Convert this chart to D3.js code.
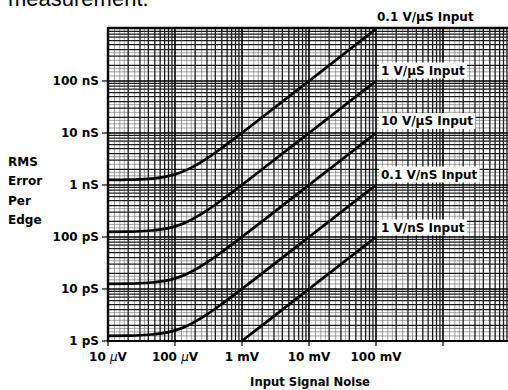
<!DOCTYPE html>
<html><head><meta charset="utf-8">
<script src="https://cdn.jsdelivr.net/npm/d3@7"></script>
<style>
html,body{margin:0;padding:0;background:#fff;}
svg{display:block;}
text{font-family:"DejaVu Sans",sans-serif;font-weight:bold;fill:#000;}
</style></head>
<body>
<svg id="c" width="508" height="390"></svg>
<script>
// Input signal noise (µV)
const noise = [10, 20, 30, 50, 70, 100, 150, 200, 300, 500, 700, 1000, 2000, 5000, 10000, 20000, 50000, 100000];
const noise5 = [1000, 2000, 5000, 10000, 20000, 50000, 100000];
// RMS error per edge (ps)
const s01VperUs = [1254, 1266, 1285, 1346, 1433, 1601, 1953, 2358, 3250, 5154, 7110, 10080, 20040, 50020, 100010, 200000, 500000, 1000000];
const s1VperUs  = [125, 127, 129, 135, 143, 160, 195, 236, 325, 515, 711, 1008, 2004, 5002, 10000, 20000, 50000, 100000];
const s10VperUs = [12.5, 12.7, 12.9, 13.5, 14.3, 16.0, 19.5, 23.6, 32.5, 51.5, 71.1, 101, 200, 500, 1000, 2000, 5000, 10000];
const s01VperNs = [1.25, 1.27, 1.29, 1.35, 1.43, 1.60, 1.95, 2.36, 3.25, 5.15, 7.11, 10.1, 20.0, 50.0, 100, 200, 500, 1000];
const s1VperNs  = [1.01, 2.0, 5.0, 10, 20, 50, 100];
const seriesLabels = ["0.1 V/\u00b5S Input", "1 V/\u00b5S Input", "10 V/\u00b5S Input", "0.1 V/nS Input", "1 V/nS Input"];
const xTickVals = [10, 100, 1000, 10000, 100000, 1000000];
const xTickLabels = [["10 ", "\u00b5", "V"], ["100 ", "\u00b5", "V"], ["1 mV"], ["10 mV"], ["100 mV"], [""]];
const yTickVals = [1, 10, 100, 1000, 10000, 100000];
const yTickLabels = ["1 pS", "10 pS", "100 pS", "1 nS", "10 nS", "100 nS"];
const yTitle = ["RMS", "Error", "Per", "Edge"];
const xTitle = "Input Signal Noise";
const topText = "measurement.";

const svg = d3.select("#c");
const x = d3.scaleLog().domain([10, 1e7]).range([108, 510]);
const y = d3.scaleLog().domain([1, 1e6]).range([341, 29]);
const X0 = 108, X1 = 508, Y0 = 341, Y1 = 28;

// cut-off page text (partly outside the page, as in the reference)
svg.append("text").attr("x", 8).attr("y", 6).style("font-family", "'Liberation Sans',Arial,sans-serif")
  .style("font-weight", "normal").style("font-size", "22px").text(topText);

const grid = svg.append("g");
function gridVals(d0, d1, subs) {
  const out = [];
  for (let p = d0; p < d1; p++) subs.forEach(s => out.push(s * Math.pow(10, p)));
  return out;
}
const mainSubs = [2,3,4,5,6,7,8,9];
const fineSubs = [1.25, 1.5, 1.75, 2.5, 3.5];
// fine lines
gridVals(1, 7, fineSubs).forEach(v => {
  const px = x(v); if (px <= X1) grid.append("line").attr("x1", px).attr("x2", px).attr("y1", Y1).attr("y2", Y0).attr("stroke", "#777").attr("stroke-width", 0.7);
});
gridVals(0, 6, fineSubs).forEach(v => {
  const py = y(v); grid.append("line").attr("x1", X0).attr("x2", X1).attr("y1", py).attr("y2", py).attr("stroke", "#777").attr("stroke-width", 0.7);
});
gridVals(1, 7, mainSubs).forEach(v => {
  const px = x(v); if (px <= X1) grid.append("line").attr("x1", px).attr("x2", px).attr("y1", Y1).attr("y2", Y0).attr("stroke", "#1a1a1a").attr("stroke-width", 1.3);
});
gridVals(0, 6, mainSubs).forEach(v => {
  const py = y(v); grid.append("line").attr("x1", X0).attr("x2", X1).attr("y1", py).attr("y2", py).attr("stroke", "#1a1a1a").attr("stroke-width", 1.3);
});
// decade lines
gridVals(1, 7, [1]).forEach(v => {
  const px = x(v); grid.append("line").attr("x1", px).attr("x2", px).attr("y1", Y1).attr("y2", Y0).attr("stroke", "#000").attr("stroke-width", 1.6);
});
gridVals(0, 6, [1]).forEach(v => {
  const py = y(v); grid.append("line").attr("x1", X0).attr("x2", X1).attr("y1", py).attr("y2", py).attr("stroke", "#000").attr("stroke-width", 1.6);
});
// borders
svg.append("line").attr("x1", X0).attr("x2", X1).attr("y1", Y1).attr("y2", Y1).attr("stroke", "#000").attr("stroke-width", 2.4);
svg.append("line").attr("x1", X0).attr("x2", X1).attr("y1", Y0).attr("y2", Y0).attr("stroke", "#000").attr("stroke-width", 1.8);
svg.append("line").attr("x1", X0).attr("x2", X0).attr("y1", Y1 - 1).attr("y2", Y0 + 1).attr("stroke", "#000").attr("stroke-width", 2.4);

// ticks
xTickVals.forEach((v, i) => {
  svg.append("line").attr("x1", x(v)).attr("x2", x(v)).attr("y1", Y0).attr("y2", Y0 + 5).attr("stroke", "#000").attr("stroke-width", 1.2);
  const t = svg.append("text").attr("x", x(v)).attr("y", 360.5).attr("text-anchor", "middle").style("font-size", "12px");
  xTickLabels[i].forEach(part => {
    const ts = t.append("tspan").text(part);
    if (part === "\u00b5") ts.style("font-style", "italic").style("font-weight", "normal");
  });
});
yTickVals.forEach((v, i) => {
  svg.append("line").attr("x1", X0 - 6).attr("x2", X0).attr("y1", y(v)).attr("y2", y(v)).attr("stroke", "#000").attr("stroke-width", 1.2);
  svg.append("text").attr("x", 99).attr("y", y(v) + 4.4).attr("text-anchor", "end").style("font-size", "12px").text(yTickLabels[i]);
});

// curves
const line = d3.line().x(d => x(d[0])).y(d => y(d[1])).curve(d3.curveMonotoneX);
const curves = [
  d3.zip(noise, s01VperUs), d3.zip(noise, s1VperUs), d3.zip(noise, s10VperUs),
  d3.zip(noise, s01VperNs), d3.zip(noise5, s1VperNs)
];
curves.forEach(c => {
  svg.append("path").attr("d", line(c)).attr("fill", "none").attr("stroke", "#000").attr("stroke-width", 2.7);
});

// series labels
const labelPos = [[377, 20.5, false], [381, 74.5, true], [381, 125, true], [381, 178.5, true], [381, 231.5, true]];
seriesLabels.forEach((s, i) => {
  const [lx, ly, bg] = labelPos[i];
  const t = svg.append("text").attr("x", lx).attr("y", ly).style("font-size", "12px").text(s);
  if (bg) {
    const b = t.node().getBBox();
    svg.insert("rect", () => t.node()).attr("x", b.x - 2).attr("y", b.y - 1).attr("width", b.width + 4).attr("height", b.height + 2).attr("fill", "#fff");
  }
});

// axis titles
yTitle.forEach((s, i) => {
  svg.append("text").attr("x", 8).attr("y", [166, 185, 204.5, 224][i]).style("font-size", "12px").text(s);
});
svg.append("text").attr("x", 310).attr("y", 386).attr("text-anchor", "middle").style("font-size", "11.6px").text(xTitle);
</script>
</body></html>
